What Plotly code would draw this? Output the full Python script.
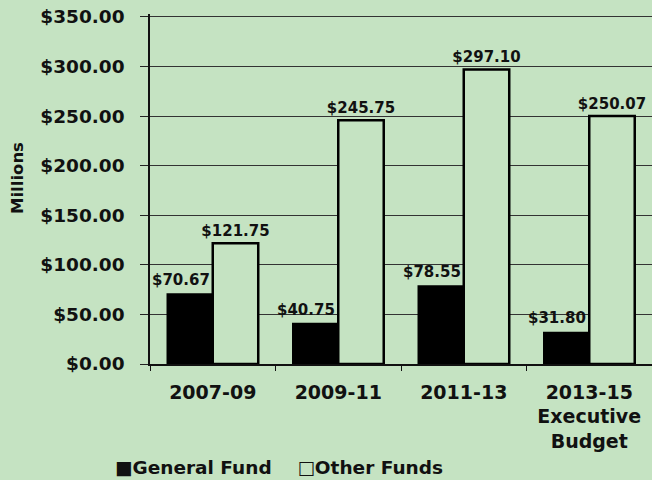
import plotly.graph_objects as go

categories = ["2007-09", "2009-11", "2011-13", "2013-15<br>Executive<br>Budget"]
general_fund = [70.67, 40.75, 78.55, 31.80]
other_funds = [121.75, 245.75, 297.10, 250.07]
y_ticks = [0, 50, 100, 150, 200, 250, 300, 350]
y_tick_labels = [f"${v:.2f}" for v in y_ticks]

BG = "#c5e3c2"
FONT = "DejaVu Sans, Liberation Sans, Arial, sans-serif"
INK = "#111111"
LABEL_FONT = dict(family=FONT, size=15, color=INK, weight="bold")

fig = go.Figure()
fig.add_trace(go.Bar(
    name="General Fund", x=categories, y=general_fund,
    marker=dict(color="#000000", line=dict(color="#000000", width=1.5)),
    showlegend=False,
))
fig.add_trace(go.Bar(
    name="Other Funds", x=categories, y=other_funds,
    marker=dict(color=BG, line=dict(color="#000000", width=2.5)),
    text=[f"${v:.2f}" for v in other_funds], textposition="outside",
    constraintext="none", textfont=LABEL_FONT,
    cliponaxis=False, showlegend=False,
))

# General Fund value labels, drawn on top so the neighbouring bar does not hide them
for cat, val in zip(categories, general_fund):
    fig.add_annotation(
        x=cat, y=val, xref="x", yref="y",
        text=f"${val:.2f}", showarrow=False,
        xanchor="right", yanchor="middle", xshift=-1, yshift=14,
        font=LABEL_FONT,
    )

# y-axis title
fig.add_annotation(
    xref="paper", yref="paper", x=(18 - 150) / 502, y=(364 - 178) / 350,
    xanchor="center", yanchor="middle", showarrow=False, textangle=-90,
    text="Millions", font=dict(family=FONT, size=16.5, color=INK, weight="bold"),
)

# legend line
fig.add_annotation(
    xref="paper", yref="paper", x=(113 - 150) / 502, y=-(467 - 364) / 350,
    xanchor="left", yanchor="middle", showarrow=False,
    text="■General Fund    □Other Funds",
    font=dict(family=FONT, size=18.5, color=INK, weight="bold"),
)

fig.update_layout(
    width=652, height=480,
    paper_bgcolor=BG, plot_bgcolor=BG,
    margin=dict(l=150, r=0, t=14, b=116),
    barmode="group", bargap=0.275, bargroupgap=0,
    font=dict(family=FONT, color=INK, weight="bold"),
    showlegend=False,
    xaxis=dict(
        type="category", range=[-0.5, 3.5],
        showline=True, linecolor=INK, linewidth=1.5,
        ticks="outside", tickson="boundaries", ticklen=5, tickcolor=INK,
        ticklabelstandoff=10,
        tickfont=dict(family=FONT, size=19, color=INK, weight="bold"),
        showgrid=False,
    ),
    yaxis=dict(
        range=[0, 353], tickvals=y_ticks, ticktext=y_tick_labels,
        showline=True, linecolor=INK, linewidth=1.5,
        ticks="outside", ticklen=8, tickcolor="#222",
        ticklabelstandoff=12,
        gridcolor="#333333", gridwidth=1,
        tickfont=dict(family=FONT, size=18.5, color=INK, weight="bold"),
        zeroline=False,
    ),
)

fig.write_html("out.html", config={"displayModeBar": False},
               post_script="document.body.style.margin='0';")
